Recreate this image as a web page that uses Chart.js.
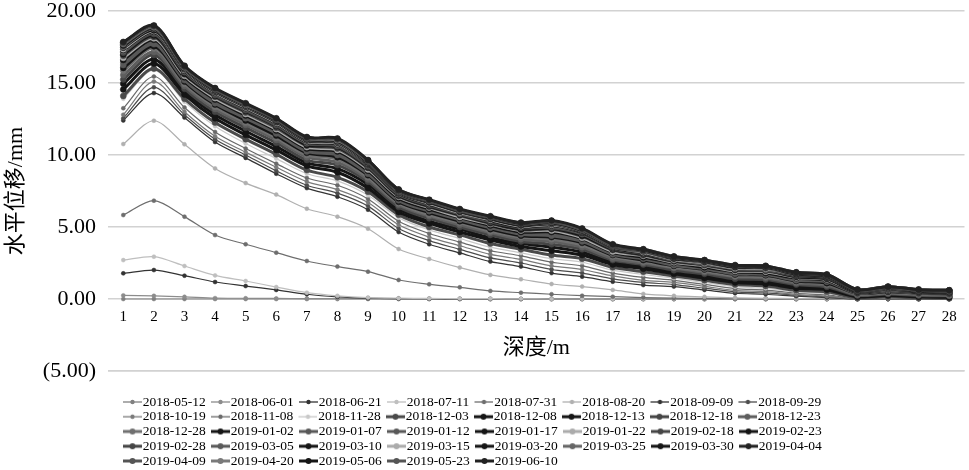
<!DOCTYPE html>
<html><head><meta charset="utf-8">
<script src="https://cdn.jsdelivr.net/npm/chart.js@4.4.1/dist/chart.umd.min.js"></script>
<style>html,body{margin:0;padding:0;background:#fff;overflow:hidden;} canvas{display:block;}</style>
</head><body>
<canvas id="c" width="969" height="470"></canvas>
<script>
const depthLabels = ['1','2','3','4','5','6','7','8','9','10','11','12','13','14','15','16','17','18','19','20','21','22','23','24','25','26','27','28'];
const yTickValues = [-5, 0, 5, 10, 15, 20];
const seriesNames = ['2018-05-12','2018-06-01','2018-06-21','2018-07-11','2018-07-31','2018-08-20','2018-09-09','2018-09-29',
  '2018-10-19','2018-11-08','2018-11-28','2018-12-03','2018-12-08','2018-12-13','2018-12-18','2018-12-23',
  '2018-12-28','2019-01-02','2019-01-07','2019-01-12','2019-01-17','2019-01-22','2019-02-18','2019-02-23',
  '2019-02-28','2019-03-05','2019-03-10','2019-03-15','2019-03-20','2019-03-25','2019-03-30','2019-04-04',
  '2019-04-09','2019-04-20','2019-05-06','2019-05-23','2019-06-10'];

const s20180512 = [0,0,0,0,0,0,0,0,0,0,0,0,0,0,0,0,0,0,0,0,0,0,0,0,0,0,0,0];
const s20180601 = [0.25,0.22,0.15,0.06,0.05,0.04,0.03,0.02,0.02,0.01,0,0,0,0,0,0,0,0,0,0,0,0,0,0,0,0,0,0];
const s20180621 = [1.78,2.01,1.62,1.18,0.9,0.63,0.33,0.15,0.06,0.03,0.02,0.01,0,0,0,0,0,0,0,0,0,0,0,0,0,0,0,0];
const s20180711 = [2.7,2.94,2.29,1.64,1.25,0.83,0.44,0.22,0.1,0.06,0.04,0.03,0.02,0.01,0,0,0,0,0,0,0,0,0,0,0,0,0,0];
const s20180731 = [5.83,6.83,5.72,4.44,3.8,3.22,2.64,2.25,1.9,1.32,1.02,0.81,0.56,0.44,0.33,0.23,0.16,0.1,0.06,0.04,0.02,0.01,0,0,0,0,0,0];
const s20180820 = [10.76,12.38,10.74,9.07,8.05,7.25,6.27,5.72,4.88,3.47,2.78,2.18,1.67,1.37,1.04,0.86,0.63,0.35,0.22,0.15,0.08,0.05,0.03,0.02,0,0,0,0];
const s20180909 = [12.4,14.3,12.6,10.9,9.8,8.7,7.7,7.1,6.2,4.65,3.8,3.2,2.6,2.25,1.8,1.55,1.2,0.97,0.86,0.63,0.4,0.33,0.2,0.1,0,0,0,0];
const s20180929 = [12.55,14.7,12.8,11.1,10.0,8.9,7.9,7.35,6.45,4.9,4.05,3.45,2.85,2.5,2.05,1.8,1.4,1.15,1.0,0.75,0.5,0.42,0.26,0.15,0,0,0,0];
const s20181019 = [12.8,15.1,13.0,11.3,10.2,9.15,8.15,7.6,6.7,5.15,4.3,3.7,3.1,2.75,2.3,2.05,1.6,1.3,1.15,0.88,0.6,0.52,0.32,0.2,0,0.02,0,0];
const s20181108 = [13.25,15.45,13.3,11.6,10.45,9.4,8.4,7.9,6.95,5.4,4.55,3.95,3.35,3.0,2.55,2.3,1.8,1.5,1.3,1.02,0.72,0.62,0.4,0.28,0.02,0.05,0.02,0];
const s20181128 = [13.9,15.9,13.7,12.0,10.8,9.75,8.7,8.2,7.2,5.65,4.8,4.2,3.6,3.2,2.8,2.55,2.0,1.7,1.45,1.15,0.85,0.75,0.5,0.38,0.05,0.1,0.05,0.02];
const s20181203 = [14.1,16.0,13.9,12.25,11.1,10.05,8.95,8.45,7.45,5.85,5.0,4.45,3.85,3.45,3.05,2.8,2.2,1.9,1.6,1.3,1.0,0.9,0.6,0.5,0.08,0.15,0.08,0.05];
const s20181208 = [14.55,16.35,14.2,12.55,11.4,10.35,9.25,8.8,7.7,6.05,5.25,4.65,4.1,3.65,3.35,3.05,2.4,2.1,1.75,1.45,1.15,1.05,0.75,0.65,0.15,0.25,0.15,0.12];
const s20181213 = [14.95,16.65,14.4,12.8,11.65,10.6,9.45,9.05,7.95,6.25,5.4,4.85,4.25,3.85,3.6,3.25,2.55,2.25,1.9,1.6,1.3,1.2,0.9,0.75,0.2,0.3,0.2,0.17];
const s20181218 = [15.25,16.95,14.6,13.0,11.9,10.85,9.65,9.3,8.15,6.4,5.6,5.0,4.45,4.0,3.8,3.45,2.7,2.4,2.0,1.75,1.4,1.35,1.0,0.85,0.25,0.35,0.25,0.22];
const s20181223 = [15.55,17.15,14.8,13.2,12.1,11.05,9.85,9.5,8.3,6.55,5.75,5.15,4.6,4.15,4.0,3.6,2.8,2.5,2.15,1.85,1.55,1.45,1.1,0.95,0.3,0.4,0.3,0.25];
const s20181228 = [15.85,17.4,14.95,13.35,12.25,11.2,10.0,9.7,8.45,6.65,5.85,5.3,4.7,4.3,4.15,3.75,2.95,2.6,2.2,1.95,1.6,1.55,1.2,1.05,0.35,0.45,0.35,0.3];
const s20190102 = [16.05,17.55,15.1,13.5,12.4,11.35,10.15,9.85,8.6,6.75,6.0,5.4,4.85,4.4,4.3,3.9,3.05,2.7,2.3,2.05,1.7,1.65,1.25,1.1,0.4,0.5,0.4,0.35];
const s20190107 = [16.25,17.7,15.2,13.6,12.55,11.5,10.25,10.0,8.7,6.85,6.1,5.5,4.95,4.5,4.4,4.0,3.1,2.8,2.35,2.1,1.75,1.7,1.3,1.2,0.4,0.55,0.4,0.35];
const s20190112 = [16.45,17.85,15.35,13.75,12.65,11.6,10.4,10.1,8.8,6.95,6.2,5.55,5.05,4.6,4.55,4.1,3.2,2.85,2.45,2.15,1.85,1.75,1.4,1.25,0.45,0.6,0.45,0.4];
const s20190117 = [16.6,18.0,15.4,13.85,12.75,11.7,10.45,10.25,8.9,7.0,6.25,5.65,5.1,4.65,4.65,4.2,3.25,2.9,2.5,2.2,1.9,1.8,1.45,1.3,0.45,0.6,0.45,0.4];
const s20190122 = [16.75,18.1,15.5,13.95,12.85,11.8,10.55,10.35,9.0,7.1,6.35,5.7,5.2,4.75,4.75,4.25,3.3,3.0,2.55,2.3,1.95,1.9,1.5,1.35,0.5,0.65,0.5,0.45];
const s20190218 = [16.9,18.2,15.6,14.05,12.95,11.9,10.65,10.45,9.1,7.15,6.4,5.8,5.25,4.8,4.85,4.35,3.4,3.05,2.6,2.35,2.0,1.95,1.55,1.4,0.5,0.65,0.5,0.45];
const s20190223 = [17.0,18.3,15.65,14.1,13.05,12.0,10.7,10.55,9.15,7.2,6.45,5.85,5.3,4.85,4.9,4.4,3.45,3.1,2.65,2.4,2.05,2.0,1.55,1.4,0.5,0.7,0.5,0.45];
const s20190228 = [17.1,18.4,15.75,14.15,13.1,12.05,10.8,10.6,9.2,7.25,6.5,5.9,5.35,4.95,4.95,4.5,3.5,3.15,2.7,2.4,2.1,2.0,1.6,1.45,0.55,0.7,0.55,0.5];
const s20190305 = [17.2,18.5,15.8,14.25,13.2,12.15,10.85,10.7,9.3,7.3,6.6,5.95,5.45,5.0,5.05,4.55,3.55,3.2,2.7,2.45,2.1,2.05,1.65,1.5,0.55,0.75,0.55,0.5];
const s20190310 = [17.3,18.55,15.85,14.3,13.25,12.2,10.9,10.75,9.35,7.35,6.6,6.0,5.45,5.0,5.1,4.6,3.55,3.2,2.75,2.5,2.15,2.1,1.65,1.5,0.55,0.75,0.55,0.5];
const s20190315 = [17.35,18.6,15.9,14.35,13.3,12.25,10.95,10.8,9.4,7.4,6.65,6.0,5.5,5.05,5.15,4.65,3.6,3.25,2.75,2.5,2.15,2.1,1.7,1.55,0.6,0.75,0.6,0.55];
const s20190320 = [17.45,18.65,15.95,14.4,13.35,12.3,11.0,10.85,9.4,7.4,6.7,6.05,5.55,5.1,5.2,4.65,3.6,3.3,2.8,2.55,2.2,2.15,1.7,1.55,0.6,0.75,0.6,0.55];
const s20190325 = [17.5,18.75,16.0,14.45,13.4,12.35,11.05,10.9,9.45,7.45,6.75,6.1,5.6,5.15,5.25,4.7,3.65,3.3,2.85,2.55,2.25,2.15,1.75,1.6,0.6,0.8,0.6,0.55];
const s20190330 = [17.6,18.8,16.05,14.5,13.45,12.4,11.1,10.95,9.5,7.5,6.75,6.1,5.6,5.15,5.3,4.75,3.7,3.35,2.85,2.6,2.25,2.2,1.75,1.6,0.6,0.8,0.6,0.55];
const s20190404 = [17.65,18.8,16.05,14.5,13.45,12.4,11.1,11.0,9.5,7.5,6.8,6.15,5.65,5.2,5.3,4.8,3.7,3.35,2.9,2.6,2.25,2.2,1.8,1.65,0.6,0.8,0.6,0.55];
const s20190409 = [17.7,18.85,16.1,14.55,13.5,12.45,11.15,11.0,9.55,7.5,6.8,6.15,5.65,5.2,5.35,4.8,3.7,3.35,2.9,2.65,2.3,2.25,1.8,1.65,0.6,0.8,0.6,0.55];
const s20190420 = [17.75,18.9,16.1,14.6,13.5,12.5,11.2,11.05,9.6,7.55,6.85,6.2,5.7,5.25,5.4,4.85,3.75,3.4,2.9,2.65,2.3,2.25,1.8,1.65,0.65,0.85,0.65,0.6];
const s20190506 = [17.8,18.95,16.15,14.6,13.55,12.5,11.2,11.1,9.6,7.55,6.85,6.2,5.7,5.25,5.4,4.85,3.75,3.4,2.9,2.65,2.3,2.25,1.8,1.65,0.65,0.85,0.65,0.6];
const s20190523 = [17.8,18.95,16.15,14.6,13.55,12.5,11.2,11.1,9.6,7.6,6.85,6.2,5.7,5.3,5.4,4.85,3.75,3.45,2.95,2.7,2.35,2.3,1.85,1.7,0.65,0.85,0.65,0.6];
const s20190610 = [17.85,19.0,16.2,14.65,13.6,12.55,11.25,11.15,9.65,7.6,6.9,6.25,5.75,5.3,5.45,4.9,3.8,3.45,2.95,2.7,2.35,2.3,1.85,1.7,0.65,0.85,0.65,0.6];

const seriesValues = [s20180512,s20180601,s20180621,s20180711,s20180731,s20180820,s20180909,s20180929,
  s20181019,s20181108,s20181128,s20181203,s20181208,s20181213,s20181218,s20181223,
  s20181228,s20190102,s20190107,s20190112,s20190117,s20190122,s20190218,s20190223,
  s20190228,s20190305,s20190310,s20190315,s20190320,s20190325,s20190330,s20190404,
  s20190409,s20190420,s20190506,s20190523,s20190610];

// styles
const lineColors = ['#808080','#8c8c8c','#333333','#bfbfbf','#6e6e6e','#b0b0b0','#333333','#4d4d4d',
  '#7a7a7a','#6a6a6a','#c8c8c8','#4a4a4a','#151515','#151515','#454545','#5e5e5e',
  '#707070','#151515','#585858','#585858','#151515','#ababab','#454545','#151515',
  '#454545','#5a5a5a','#151515','#ababab','#151515','#666666','#151515','#222222',
  '#555555','#7a7a7a','#151515','#555555','#222222'];
const thickFrom = 11;
const GRID_COLOR = '#d2d2d2';
const FONT = "'Liberation Serif', 'Noto Sans CJK SC', serif";

function makeMarker(color, thick) {
  const c = document.createElement('canvas');
  c.width = 29; c.height = 8;
  const g = c.getContext('2d');
  g.strokeStyle = color; g.lineWidth = thick ? 3 : 1.3;
  g.beginPath(); g.moveTo(10, 4); g.lineTo(29, 4); g.stroke();
  g.fillStyle = color;
  g.beginPath(); g.arc(19.5, 4, thick ? 3 : 2.2, 0, Math.PI * 2); g.fill();
  return c;
}
const markers = seriesNames.map((n, i) => makeMarker(lineColors[i], i >= thickFrom));

const datasets = seriesNames.map((name, i) => {
  const thick = i >= thickFrom;
  return {
    label: name,
    data: seriesValues[i],
    borderColor: lineColors[i],
    backgroundColor: lineColors[i],
    pointBackgroundColor: lineColors[i],
    pointBorderColor: lineColors[i],
    borderWidth: thick ? 3 : 1.2,
    pointRadius: thick ? 3 : 2,
    pointBorderWidth: 0.5,
    tension: 0.3,
    fill: false,
    order: seriesNames.length - i
  };
});

const legendPlace = {
  id: 'legendPlace',
  afterLayout(chart) {
    const lg = chart.legend;
    if (!lg) return;
    lg.left = 117.75;
    lg.right = lg.left + 760;
    lg.width = 760;
    const h = lg.height;
    lg.top = 394;
    lg.bottom = 394 + h;
  }
};

// draws the lowest-value gridline through the y scale, after everything else
const bottomGrid = {
  id: 'bottomGrid',
  afterDraw(chart) {
    const ys = chart.scales.y, ca = chart.chartArea, ctx = chart.ctx;
    const py = Math.round(ys.getPixelForValue(yTickValues[0])) - 1;
    ctx.save();
    ctx.fillStyle = GRID_COLOR;
    ctx.fillRect(ca.left, py, ca.right - ca.left, 1.5);
    ctx.restore();
  }
};

new Chart(document.getElementById('c'), {
  type: 'line',
  data: { labels: depthLabels, datasets },
  plugins: [legendPlace, bottomGrid],
  options: {
    responsive: false,
    animation: false,
    devicePixelRatio: 1,
    layout: { padding: { left: 0, right: 0, top: 0, bottom: 15.25 } },
    plugins: {
      tooltip: { enabled: false },
      legend: {
        position: 'bottom',
        align: 'start',
        fullSize: false,
        labels: {
          usePointStyle: true,
          pointStyleWidth: 17,
          padding: 1.25,
          color: '#000',
          font: { family: FONT, size: 13.5 },
          sort: (a, b) => a.datasetIndex - b.datasetIndex,
          generateLabels(chart) {
            const items = Chart.defaults.plugins.legend.labels.generateLabels(chart);
            items.forEach(it => { it.pointStyle = markers[it.datasetIndex]; });
            return items;
          }
        }
      }
    },
    scales: {
      x: {
        type: 'category',
        offset: true,
        position: { y: 0 },
        grid: { display: false, drawTicks: false },
        border: { display: false },
        ticks: { color: '#000', font: { family: FONT, size: 15 }, padding: 9, maxRotation: 0, autoSkip: false },
        title: { display: true, text: '深度/m', color: '#000', font: { family: FONT, size: 22 }, padding: { top: 0, bottom: 0 } }
      },
      y: {
        min: -5,
        max: 20,
        afterFit(scale) { scale.width = 108; },
        afterBuildTicks(scale) { scale.ticks = yTickValues.map(v => ({ value: v })); },
        ticks: {
          color: '#000',
          font: { family: FONT, size: 22, lineHeight: 1 },
          padding: 0,
          callback: v => v < 0 ? '(' + Math.abs(v).toFixed(2) + ')' : Number(v).toFixed(2)
        },
        grid: { color: GRID_COLOR, lineWidth: 1.5, tickLength: 12, tickColor: 'rgba(0,0,0,0)' },
        border: { display: false },
        title: { display: true, text: '水平位移/mm', color: '#000', font: { family: FONT, size: 22 }, padding: { top: 3, bottom: 0 } }
      }
    }
  }
});
</script>
</body></html>
